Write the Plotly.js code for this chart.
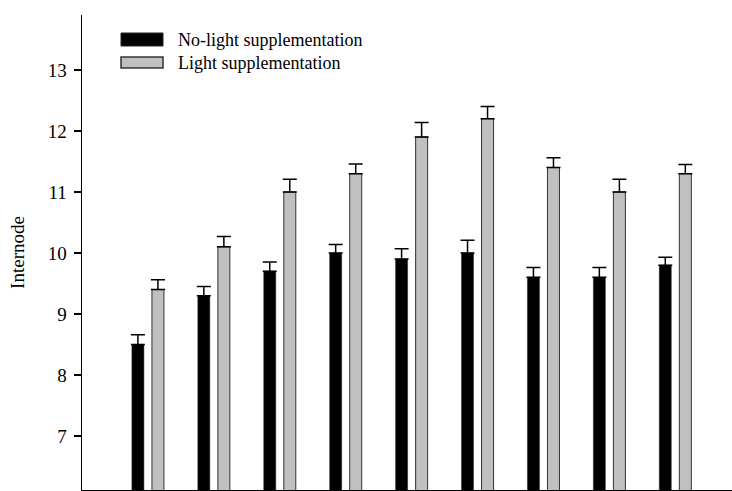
<!DOCTYPE html>
<html>
<head>
<meta charset="utf-8">
<script src="https://cdn.plot.ly/plotly-3.0.1.min.js"></script>
<style>html,body{margin:0;padding:0;background:#fff;}#chart{width:732px;height:491px;}</style>
</head>
<body>
<div id="chart"></div>
<script>
var categories = ['1','2','3','4','5','6','7','8','9'];
var noLight = [8.5, 9.3, 9.7, 10.0, 9.9, 10.0, 9.6, 9.6, 9.8];
var noLightErr = [0.16, 0.15, 0.15, 0.14, 0.17, 0.21, 0.16, 0.16, 0.13];
var light = [9.4, 10.1, 11.0, 11.3, 11.9, 12.2, 11.4, 11.0, 11.3];
var lightErr = [0.16, 0.17, 0.21, 0.16, 0.24, 0.20, 0.16, 0.21, 0.15];
var seriesNames = ['No-light supplementation', 'Light supplementation'];
var yTicks = [7, 8, 9, 10, 11, 12, 13];

var W = 732, H = 491, mL = 82, mR = 0, mT = 15, mB = 1;
var pw = W - mL - mR, ph = H - mT - mB;
function px(x){ return (x - mL) / pw; }
function py(y){ return (H - mB - y) / ph; }

var zeros = noLight.map(function(){return 0;});
var font = 'Liberation Serif, Times New Roman, serif';

var traces = [
  {
    type: 'bar', x: categories, y: noLight, name: seriesNames[0],
    width: 0.182, offset: -0.243,
    marker: {color: '#000000', line: {color: '#222222', width: 0.5}},
    error_y: {type: 'data', symmetric: false, array: noLightErr, arrayminus: zeros,
              color: '#000000', thickness: 1.5, width: 7},
    showlegend: false
  },
  {
    type: 'bar', x: categories, y: light, name: seriesNames[1],
    width: 0.182, offset: 0.061,
    marker: {color: '#c0c0c0', line: {color: '#333333', width: 1}},
    error_y: {type: 'data', symmetric: false, array: lightErr, arrayminus: zeros,
              color: '#000000', thickness: 1.5, width: 7},
    showlegend: false
  }
];

var layout = {
  width: W, height: H,
  margin: {l: mL, r: mR, t: mT, b: mB, pad: 0},
  paper_bgcolor: '#ffffff', plot_bgcolor: '#ffffff',
  barmode: 'overlay',
  font: {family: font, size: 18, color: '#000000'},
  xaxis: {
    type: 'category', range: [-1, 8.86],
    showticklabels: false, ticks: '', showgrid: false, zeroline: false,
    showline: true, linecolor: '#000000', linewidth: 1.5, fixedrange: true
  },
  yaxis: {
    range: [6.115, 13.9], tickvals: yTicks, ticktext: yTicks.map(String),
    ticks: 'outside', ticklen: 7, tickwidth: 1.5, tickcolor: '#000000',
    showline: true, linecolor: '#000000', linewidth: 1.5,
    showgrid: false, zeroline: false, ticklabelstandoff: 3,
    tickfont: {family: font, size: 19, color: '#000000'},
    title: {text: 'Internode', font: {family: font, size: 19, color: '#000000'}, standoff: 18},
    automargin: false, fixedrange: true
  },
  shapes: [
    {type: 'rect', xref: 'paper', yref: 'paper', x0: px(121), x1: px(163), y0: py(46), y1: py(33),
     fillcolor: '#000000', line: {color: '#222222', width: 1}},
    {type: 'rect', xref: 'paper', yref: 'paper', x0: px(121), x1: px(163), y0: py(68), y1: py(57),
     fillcolor: '#c0c0c0', line: {color: '#333333', width: 1.5}}
  ],
  annotations: [
    {xref: 'paper', yref: 'paper', x: px(176), y: py(40), xanchor: 'left', yanchor: 'middle',
     text: seriesNames[0], showarrow: false, font: {family: font, size: 18, color: '#000000'}},
    {xref: 'paper', yref: 'paper', x: px(176), y: py(63), xanchor: 'left', yanchor: 'middle',
     text: seriesNames[1], showarrow: false, font: {family: font, size: 18, color: '#000000'}}
  ]
};

Plotly.newPlot('chart', traces, layout, {displayModeBar: false, staticPlot: true});
</script>
</body>
</html>
